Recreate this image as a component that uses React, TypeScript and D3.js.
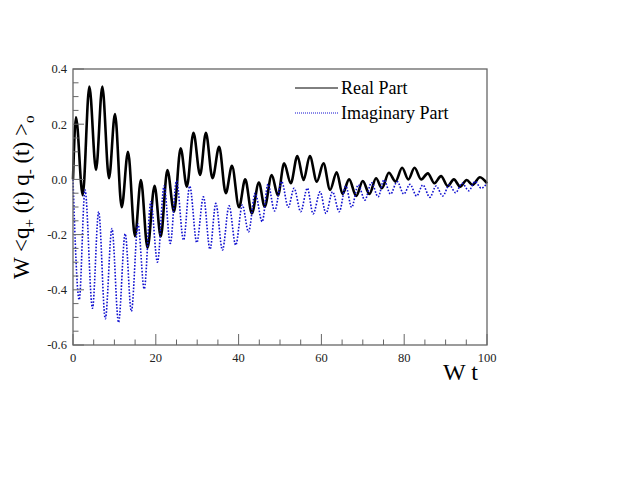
import React from "react";
import * as d3 from "d3";

// values (extrema of each oscillation)
const realT = [0, 0.72, 2.34, 3.95, 5.56, 7.08, 8.7, 10.14, 11.76, 13.29, 14.98, 16.4, 18.0, 19.7, 21.2, 22.8, 24.4, 26.0, 27.5, 29.1, 30.7, 32.1, 33.7, 35.3, 36.9, 38.4, 40.1, 41.6, 43.2, 44.9, 46.3, 48.0, 49.5, 51.0, 52.6, 54.2, 55.7, 57.2, 58.9, 60.5, 62.1, 63.7, 65.1, 66.7, 68.4, 70.0, 71.6, 73.2, 74.6, 76.3, 77.9, 79.5, 81.0, 82.5, 84.1, 85.7, 87.3, 88.9, 90.5, 92.0, 93.5, 95.1, 96.5, 98.3, 100];
const realV = [0, 0.225, -0.057, 0.336, 0.034, 0.336, 0.004, 0.237, -0.101, 0.1, -0.206, -0.002, -0.248, -0.023, -0.207, 0.034, -0.117, 0.113, -0.026, 0.169, 0.016, 0.169, 0.004, 0.118, -0.05, 0.049, -0.101, 0.0, -0.123, -0.011, -0.099, 0.016, -0.058, 0.058, -0.014, 0.085, -0.002, 0.085, -0.008, 0.058, -0.038, 0.026, -0.053, 0.0, -0.06, -0.006, -0.053, 0.004, -0.032, 0.024, -0.008, 0.042, 0.0, 0.042, 0.0, 0.022, -0.014, 0.012, -0.024, 0.0, -0.026, -0.002, -0.02, 0.008, -0.014];

const imagT = [0, 1.5, 2.9, 4.7, 6.2, 7.8, 9.4, 11.0, 12.6, 14.1, 15.7, 17.2, 18.8, 20.4, 22.0, 23.5, 25.0, 26.7, 28.2, 29.9, 31.5, 33.1, 34.5, 36.1, 37.7, 39.3, 40.9, 42.4, 44.0, 45.7, 47.1, 48.7, 50.4, 52.0, 53.4, 55.0, 56.6, 58.0, 59.7, 61.1, 62.7, 64.3, 65.9, 67.3, 68.9, 70.5, 72.1, 73.7, 75.1, 76.7, 78.3, 79.9, 81.4, 83.0, 84.5, 86.2, 87.7, 89.3, 90.9, 92.4, 94.0, 95.6, 97.1, 98.6, 100];
const imagV = [0, -0.436, -0.038, -0.467, -0.117, -0.505, -0.178, -0.518, -0.197, -0.478, -0.162, -0.397, -0.081, -0.3, -0.024, -0.232, -0.005, -0.22, -0.024, -0.229, -0.063, -0.253, -0.087, -0.256, -0.096, -0.238, -0.093, -0.19, -0.05, -0.153, -0.017, -0.114, -0.008, -0.101, -0.032, -0.117, -0.032, -0.125, -0.045, -0.123, -0.045, -0.117, -0.024, -0.101, -0.02, -0.075, -0.012, -0.063, -0.002, -0.053, -0.008, -0.053, -0.018, -0.06, -0.02, -0.065, -0.024, -0.06, -0.02, -0.048, -0.014, -0.041, -0.008, -0.032, -0.014];

const xTicks = [0, 20, 40, 60, 80, 100];
const yTicks = [-0.6, -0.4, -0.2, 0.0, 0.2, 0.4];
const legendLabels = ["Real Part", "Imaginary Part"];

const W = 623;
const H = 485;
const serif = "'Liberation Serif', 'Times New Roman', serif";
const frameColor = "#666";
const blue = "#1010d0";

const App = () => {
  const x = d3.scaleLinear().domain([0, 100]).range([73, 487]);
  const y = d3.scaleLinear().domain([-0.6, 0.4]).range([345, 69]);

  const line = d3
    .line<[number, number]>()
    .x((d) => x(d[0]))
    .y((d) => y(d[1]))
    .curve(d3.curveMonotoneX);

  const realPath = line(realT.map((t, i) => [t, realV[i]]) as [number, number][]) || "";
  const imagPath = line(imagT.map((t, i) => [t, imagV[i]]) as [number, number][]) || "";

  const xMinor = d3.range(0, 100.01, 5);
  const yMinor = d3.range(-0.6, 0.4001, 0.05);

  return (
    <svg width={W} height={H} style={{ position: "absolute", left: 0, top: 0 }}>
      <rect x={0} y={0} width={W} height={H} fill="#fff" />

      {/* curves */}
      <path d={realPath} fill="none" stroke="#000" strokeWidth={2.6} />
      <path d={imagPath} fill="none" stroke={blue} strokeWidth={1.6} strokeDasharray="1.6 1.6" />

      {/* frame */}
      <rect x={x(0)} y={y(0.4)} width={x(100) - x(0)} height={y(-0.6) - y(0.4)} fill="none" stroke={frameColor} strokeWidth={1.3} />

      {/* x ticks */}
      {xMinor.map((v) => {
        const major = Math.abs(v % 20) < 1e-6;
        return (
          <line key={"xt" + v} x1={x(v)} x2={x(v)} y1={y(-0.6)} y2={y(-0.6) - (major ? 11 : 5.5)} stroke={frameColor} strokeWidth={1} />
        );
      })}
      {xTicks.map((v) => (
        <text key={"xl" + v} x={x(v)} y={362} textAnchor="middle" fontFamily={serif} fontSize={12.5} fill="#222">
          {v}
        </text>
      ))}

      {/* y ticks */}
      {yMinor.map((v, i) => {
        const major = i % 4 === 0;
        return (
          <line key={"yt" + i} x1={x(0)} x2={x(0) + (major ? 11 : 5.5)} y1={y(v)} y2={y(v)} stroke={frameColor} strokeWidth={1} />
        );
      })}
      {yTicks.map((v) => (
        <text key={"yl" + v} x={67} y={y(v)} dy="0.35em" textAnchor="end" fontFamily={serif} fontSize={12.5} fill="#222">
          {d3.format(".1f")(v).replace("−", "-")}
        </text>
      ))}

      {/* axis titles */}
      <text x={478} y={380} textAnchor="end" fontFamily={serif} fontSize={24} fill="#000">
        W t
      </text>
      <text transform="translate(29,279) rotate(-90)" fontFamily={serif} fontSize={23} fill="#000">
        <tspan>W &lt;q</tspan>
        <tspan dy={5} fontSize={15}>+</tspan>
        <tspan dy={-5}> (t) q</tspan>
        <tspan dy={5} fontSize={15}>-</tspan>
        <tspan dy={-5}> (t) &gt;</tspan>
        <tspan dy={5} fontSize={15}>o</tspan>
      </text>

      {/* legend */}
      <line x1={295} x2={338} y1={88} y2={88} stroke="#000" strokeWidth={1} />
      <text x={341} y={88} dy="0.35em" fontFamily={serif} fontSize={18} fill="#000">
        {legendLabels[0]}
      </text>
      <line x1={295} x2={338} y1={113} y2={113} stroke={blue} strokeWidth={1} strokeDasharray="1 1" />
      <text x={341} y={113} dy="0.35em" fontFamily={serif} fontSize={18} fill="#000">
        {legendLabels[1]}
      </text>
    </svg>
  );
};

export default App;
